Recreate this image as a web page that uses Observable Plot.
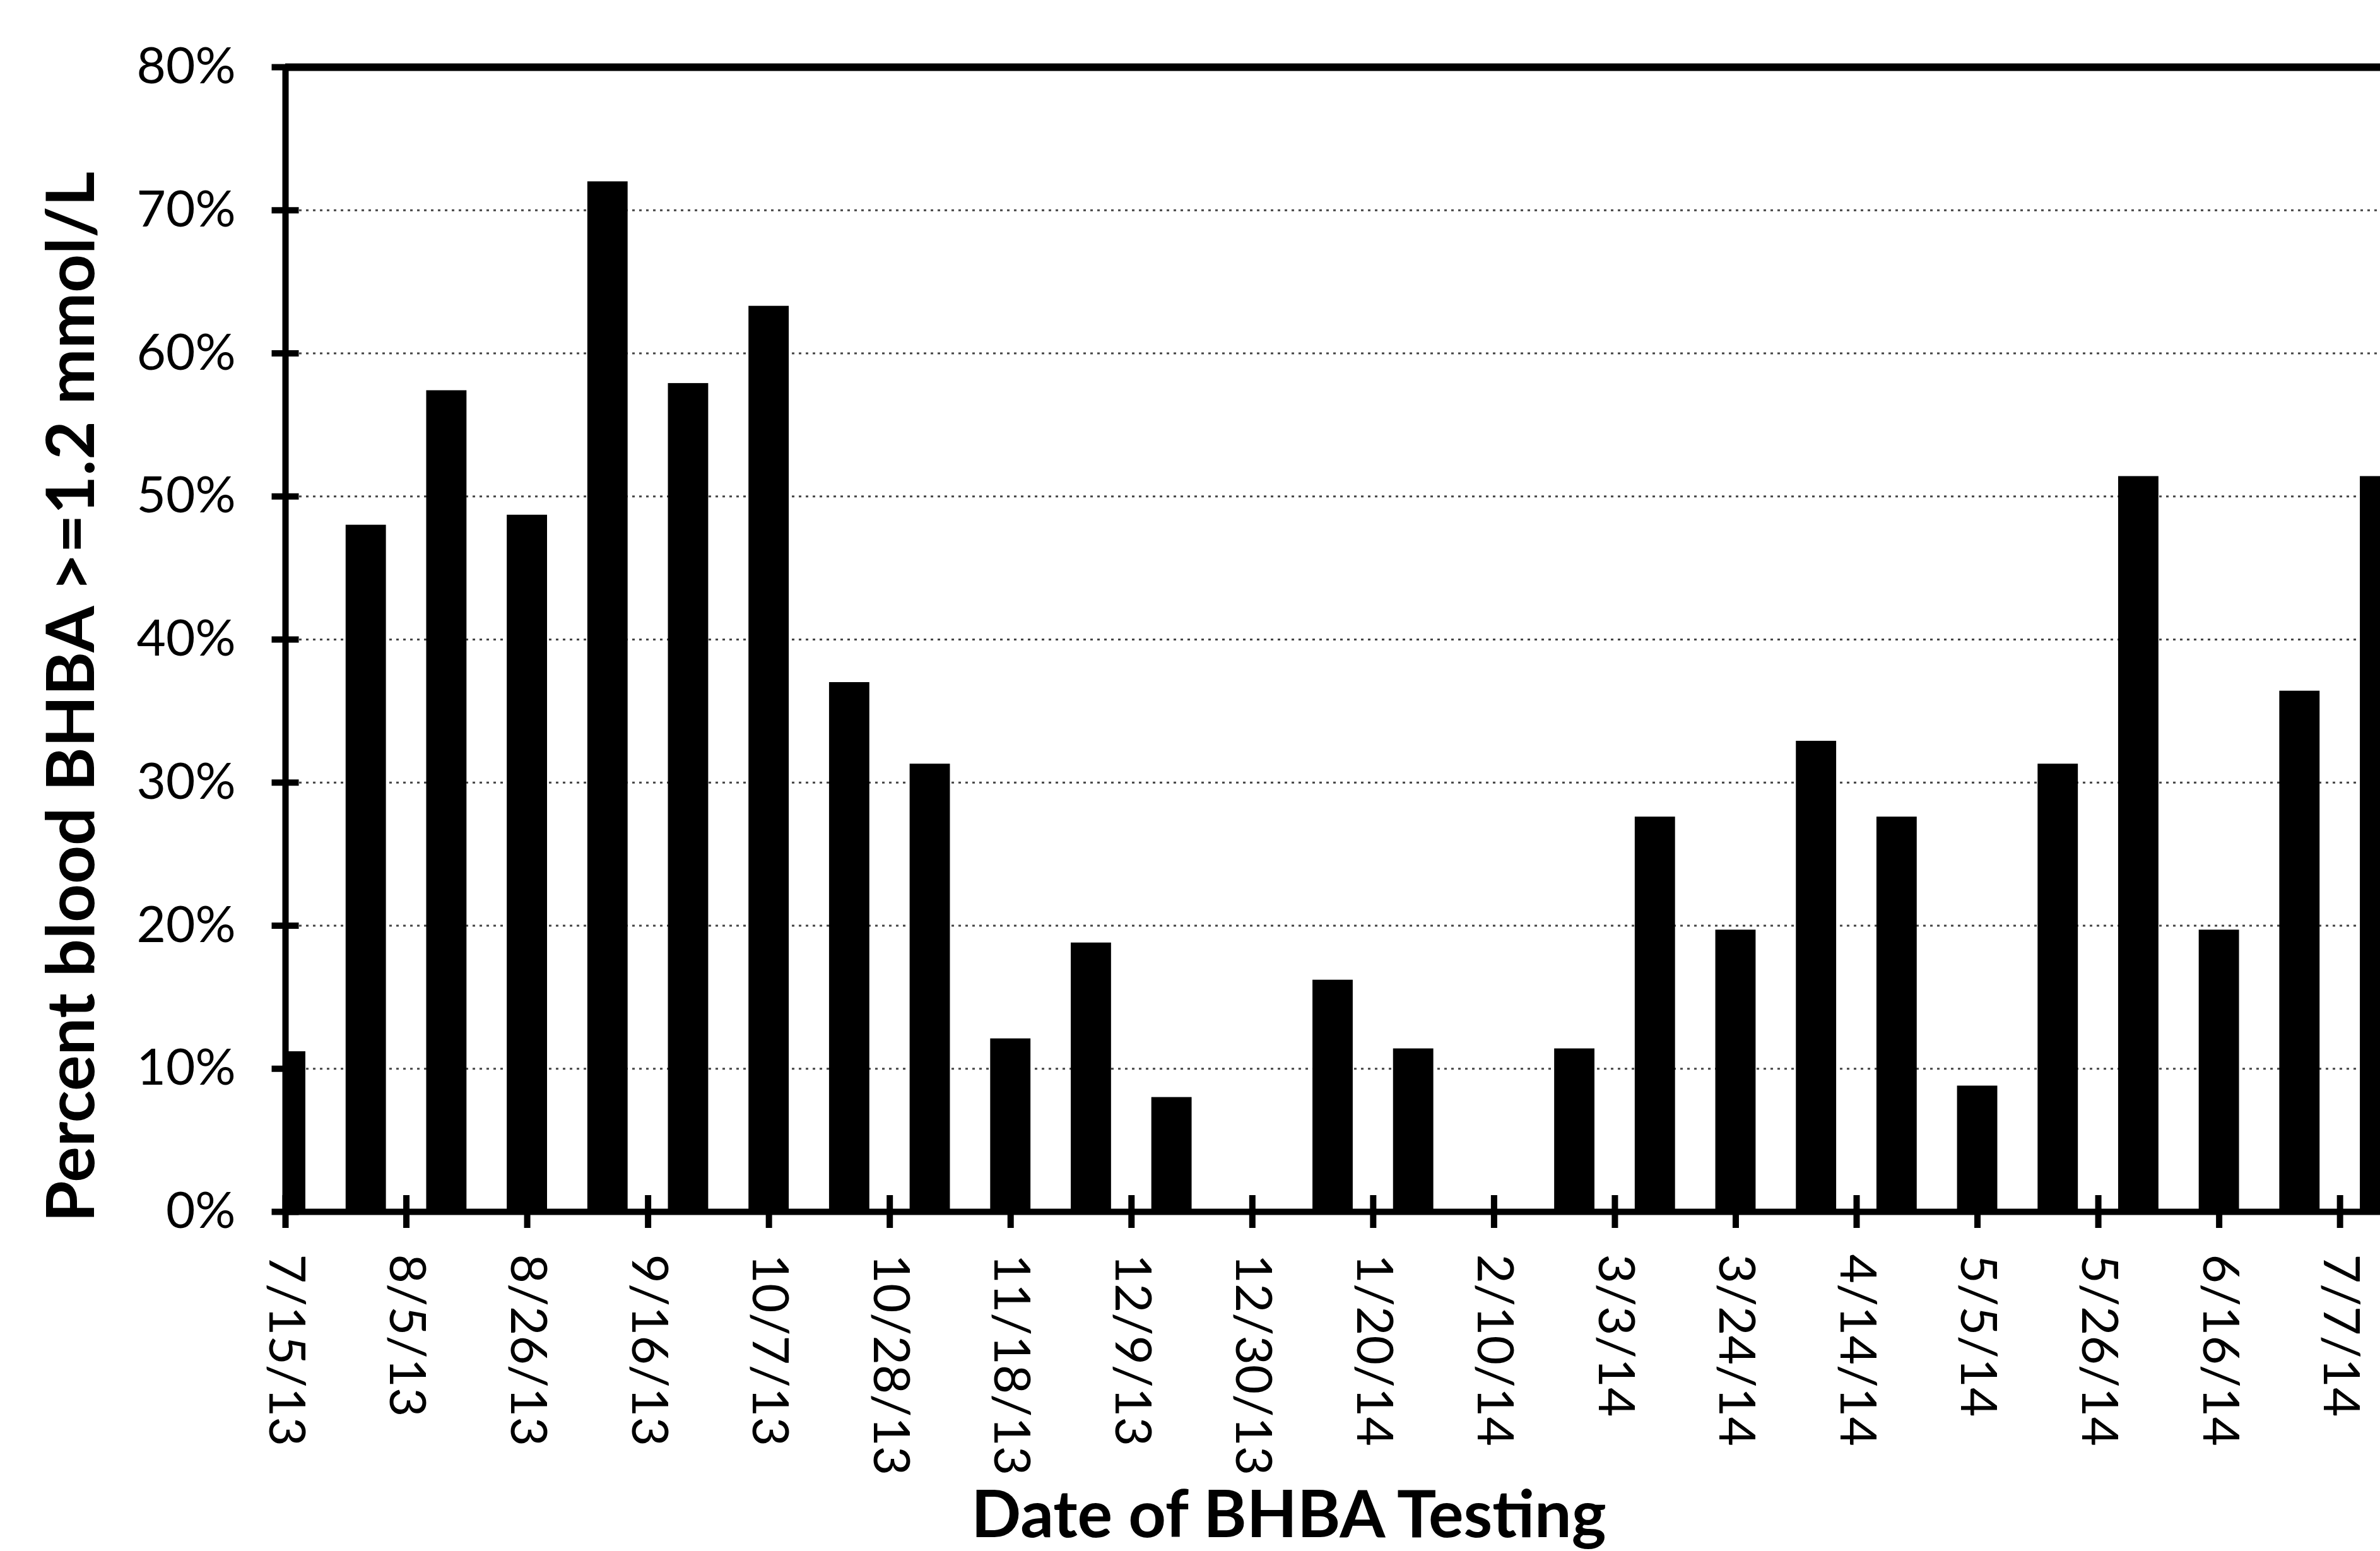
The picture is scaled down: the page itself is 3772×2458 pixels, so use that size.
<!DOCTYPE html>
<html>
<head>
<meta charset="utf-8">
<script src="https://cdn.jsdelivr.net/npm/d3@7"></script>
<script src="https://cdn.jsdelivr.net/npm/@observablehq/plot@0.6"></script>
<style>
html, body { margin: 0; padding: 0; background: #fff; }
#chart svg { display: block; }
</style>
</head>
<body>
<div id="chart"></div>
<script>
// ---- data ----
const testDates = [
  "2013-07-15", "2013-07-29", "2013-08-12", "2013-08-26", "2013-09-09", "2013-09-23",
  "2013-10-07", "2013-10-21", "2013-11-04", "2013-11-18", "2013-12-02", "2013-12-16",
  "2013-12-30", "2014-01-13", "2014-01-27", "2014-02-10", "2014-02-24", "2014-03-10",
  "2014-03-24", "2014-04-07", "2014-04-21", "2014-05-05", "2014-05-19", "2014-06-02",
  "2014-06-16", "2014-06-30", "2014-07-14"
];
const percentHigh = [
  0.112, 0.480, 0.574, 0.487, 0.720, 0.579,
  0.633, 0.370, 0.313, 0.121, 0.188, 0.080,
  0.000, 0.162, 0.114, 0.000, 0.114, 0.276,
  0.197, 0.329, 0.276, 0.088, 0.313, 0.514,
  0.197, 0.364, 0.514
];
const tickDates = [
  "2013-07-15", "2013-08-05", "2013-08-26", "2013-09-16", "2013-10-07", "2013-10-28",
  "2013-11-18", "2013-12-09", "2013-12-30", "2014-01-20", "2014-02-10", "2014-03-03",
  "2014-03-24", "2014-04-14", "2014-05-05", "2014-05-26", "2014-06-16", "2014-07-07"
];
const yTicks = [0, 0.1, 0.2, 0.3, 0.4, 0.5, 0.6, 0.7, 0.8];
const gridValues = [0.1, 0.2, 0.3, 0.4, 0.5, 0.6, 0.7];
const xDomain = ["2013-07-15", "2014-07-14"];
const yTitle = "Percent blood BHBA >=1.2 mmol/L";
const xTitle = "Date of BHBA Testing";

// ---- build ----
const parse = d3.utcParse("%Y-%m-%d");
const data = testDates.map((d, i) => ({ date: parse(d), value: percentHigh[i] }));
const halfWeek = 3.5 * 864e5;
const fmt = d3.utcFormat("%-m/%-d/%y");
const x0 = parse(xDomain[0]);

const chart = Plot.plot({
  width: 3772,
  height: 2458,
  marginLeft: 452,
  marginRight: 0,
  marginTop: 106,
  marginBottom: 538,
  style: { fontFamily: "Lato, 'Open Sans', sans-serif", background: "#fff", color: "#000", overflow: "visible" },
  x: { type: "utc", domain: xDomain.map(parse) },
  y: { domain: [0, 0.8] },
  marks: [
    Plot.ruleY(gridValues, { stroke: "#444", strokeWidth: 3, strokeDasharray: "4,7" }),
    Plot.rectY(data, {
      x1: d => new Date(+d.date - halfWeek),
      x2: d => new Date(+d.date + halfWeek),
      y1: 0,
      y2: "value",
      fill: "#000",
      clip: true
    }),
    Plot.ruleY([0.8], { stroke: "#000", strokeWidth: 12 }),
    Plot.ruleY([0], { stroke: "#000", strokeWidth: 10 }),
    Plot.ruleX([x0], { stroke: "#000", strokeWidth: 10 }),
    Plot.axisY(yTicks, { tickSize: 43, dx: 21.5, strokeWidth: 10, tickFormat: () => "", label: null }),
    Plot.axisY(yTicks, { tickSize: 0, tickPadding: 79, tickFormat: d3.format(".0%"), fontSize: 80, label: null }),
    Plot.axisX(tickDates.map(parse), { tickSize: 52, dy: -26, strokeWidth: 10, tickFormat: () => "", label: null }),
    Plot.axisX(tickDates.map(parse), { tickSize: 0, tickPadding: 67, tickRotate: 90, tickFormat: fmt, fontSize: 80, label: null }),
    Plot.text([yTitle], { text: d => d, frameAnchor: "left", textAnchor: "middle", lineAnchor: "middle", rotate: -90, dx: -337, dy: 91, fontSize: 106, fontWeight: "bold" }),
    Plot.text([xTitle], { text: d => d, frameAnchor: "bottom", textAnchor: "middle", lineAnchor: "middle", dx: -70, dy: 482, fontSize: 104, fontWeight: "bold" })
  ]
});
document.getElementById("chart").appendChild(chart);
</script>
</body>
</html>
